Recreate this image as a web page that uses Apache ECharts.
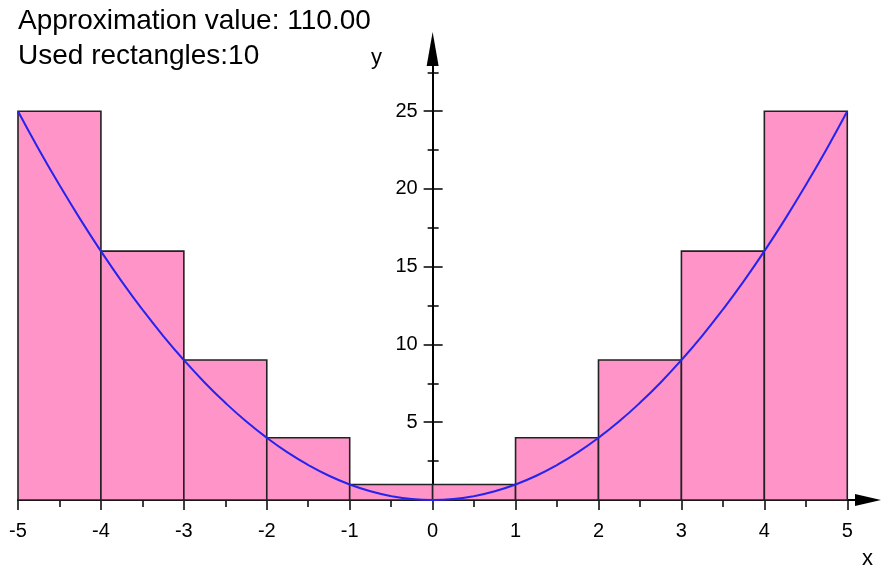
<!DOCTYPE html>
<html>
<head>
<meta charset="utf-8">
<script src="https://cdn.jsdelivr.net/npm/echarts@6/dist/echarts.min.js"></script>
<style>
  html, body { margin: 0; padding: 0; background: #fff; }
  #main { width: 883px; height: 577px; }
</style>
</head>
<body>
<div id="main"></div>
<script>
// rectangles (left edge, height), width 1 each
var rectLefts = [-5, -4, -3, -2, -1, 0, 1, 2, 3, 4];
var rectHeights = [25, 16, 9, 4, 1, 1, 4, 9, 16, 25];
var rectWidth = 1;

// blue curve
var curveX = [-5, -4.75, -4.5, -4.25, -4, -3.75, -3.5, -3.25, -3, -2.75, -2.5, -2.25, -2, -1.75, -1.5, -1.25, -1, -0.75, -0.5, -0.25,
              0, 0.25, 0.5, 0.75, 1, 1.25, 1.5, 1.75, 2, 2.25, 2.5, 2.75, 3, 3.25, 3.5, 3.75, 4, 4.25, 4.5, 4.75, 5];
var curveY = [25, 22.56, 20.25, 18.06, 16, 14.06, 12.25, 10.56, 9, 7.56, 6.25, 5.06, 4, 3.06, 2.25, 1.56, 1, 0.56, 0.25, 0.06,
              0, 0.06, 0.25, 0.56, 1, 1.56, 2.25, 3.06, 4, 5.06, 6.25, 7.56, 9, 10.56, 12.25, 14.06, 16, 18.06, 20.25, 22.56, 25];

// ticks
var xMajor = [-5, -4, -3, -2, -1, 0, 1, 2, 3, 4, 5];
var xMinor = [-4.5, -3.5, -2.5, -1.5, -0.5, 0.5, 1.5, 2.5, 3.5, 4.5];
var yMajor = [5, 10, 15, 20, 25];
var yMinor = [2.5, 7.5, 12.5, 17.5, 22.5, 27.5];

var font = 'Liberation Sans, Arial, sans-serif';
var black = '#000';

var gridLeft = 18, gridRight = 15;
var xMin = -5, xMax = 5.25;
// y axis sits at x = 0
var yOffset = -((883 - gridLeft - gridRight) * (0 - xMin) / (xMax - xMin));

var rectData = rectLefts.map(function (x, i) { return [x, rectHeights[i]]; });
var curveData = curveX.map(function (x, i) { return [x, curveY[i]]; });

function yAx(ticks, inside, len, withLine) {
    return {
        type: 'value', min: 0, max: 29, position: 'left', offset: yOffset,
        axisLine: {
            show: withLine, onZero: false,
            symbol: ['none', 'triangle'], symbolSize: [12, 34],
            lineStyle: { color: black, width: 2 }
        },
        axisTick: { show: true, customValues: ticks, inside: inside, length: len, lineStyle: { color: black, width: 1.5 } },
        axisLabel: withLine ? { customValues: yMajor, fontSize: 20, color: black, fontFamily: font, margin: 15 } : { show: false },
        splitLine: { show: false }
    };
}

function xAx(ticks, len, withLine) {
    return {
        type: 'value', min: xMin, max: xMax, position: 'bottom',
        axisLine: {
            show: withLine, onZero: false,
            symbol: ['none', 'triangle'], symbolSize: [12, 26],
            lineStyle: { color: black, width: 2 }
        },
        axisTick: { show: true, customValues: ticks, length: len, lineStyle: { color: black, width: 1.5 } },
        axisLabel: withLine ? { customValues: xMajor, fontSize: 20, color: black, fontFamily: font, margin: 21 } : { show: false },
        splitLine: { show: false }
    };
}

var myChart = echarts.init(document.getElementById('main'));
myChart.setOption({
    backgroundColor: '#fff',
    animation: false,
    title: {
        text: 'Approximation value: 110.00\nUsed rectangles:10',
        left: 18, top: 4, padding: 0,
        textStyle: { fontSize: 28, lineHeight: 35, fontWeight: 'normal', color: black, fontFamily: font }
    },
    grid: { left: gridLeft, right: gridRight, top: 49, bottom: 77, containLabel: false, outerBoundsMode: 'none' },
    xAxis: [xAx(xMajor, 10, true), xAx(xMinor, 7, false)],
    yAxis: [yAx(yMajor, false, 9, true), yAx(yMajor, true, 10, false), yAx(yMinor, false, 5, false), yAx(yMinor, true, 6, false)],
    graphic: [
        { type: 'text', left: 371, top: 47, style: { text: 'y', fontSize: 22, fill: black, font: '22px ' + font } },
        { type: 'text', left: 862, top: 548, style: { text: 'x', fontSize: 22, fill: black, font: '22px ' + font } }
    ],
    series: [
        {
            name: 'rectangles',
            type: 'custom',
            data: rectData,
            z: 1,
            renderItem: function (params, api) {
                var x0 = api.value(0), h = api.value(1);
                var p0 = api.coord([x0, h]);
                var p1 = api.coord([x0 + rectWidth, 0]);
                return {
                    type: 'rect',
                    shape: { x: p0[0], y: p0[1], width: p1[0] - p0[0], height: p1[1] - p0[1] },
                    style: { fill: '#ff94c8', stroke: '#222', lineWidth: 1.6 }
                };
            }
        },
        {
            name: 'x^2',
            type: 'line',
            data: curveData,
            z: 3,
            smooth: true,
            showSymbol: false,
            lineStyle: { color: '#2424f0', width: 2 }
        }
    ]
});
</script>
</body>
</html>
